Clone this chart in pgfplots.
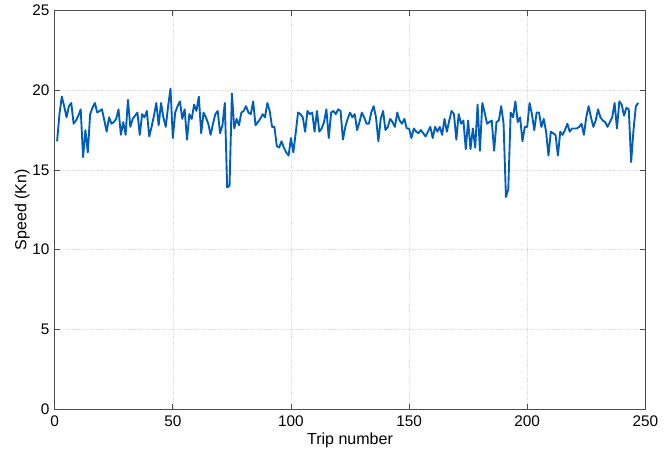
\documentclass[border=0pt]{standalone}
\usepackage{pgfplots}
\pgfplotsset{compat=1.18}
\usepackage{fontspec}
\setmainfont{Liberation Sans}
\definecolor{mblue}{RGB}{0,94,184}
\begin{document}
\fontsize{11.5}{13}\selectfont
\begin{tikzpicture}
\begin{axis}[
  scale only axis,
  width=442.5pt, height=298.5pt,
  xmin=0, xmax=250, ymin=0, ymax=25,
  xtick={0,50,...,250}, ytick={0,5,...,25},
  tick align=inside,
  major tick length=4pt,
  xmajorgrids, ymajorgrids,
  grid style={densely dotted, gray!30, line width=0.4pt},
  axis line style={black!70, line width=0.6pt},
  tick style={black!70, line width=0.6pt},
  /pgf/number format/assume math mode=true,
  ticklabel style={font=\fontsize{11.5}{13}\selectfont},
  label style={font=\fontsize{12}{14}\selectfont},
  xlabel={Trip number}, ylabel={Speed (Kn)},
  xlabel style={yshift=3pt},
  ylabel style={yshift=-6pt},
  xticklabel style={yshift=-1pt},
]
\addplot[mblue, line width=1.4pt, line join=round] table {
x y
1 16.8
2 18.5
3 19.6
4 19.0
5 18.3
6 19.0
7 19.2
8 17.9
9 18.1
10 18.4
11 18.8
12 15.8
13 17.5
14 16.1
15 18.5
16 18.9
17 19.2
18 18.6
19 18.7
20 18.8
21 18.1
22 17.4
23 18.3
24 17.9
25 18.0
26 18.2
27 18.8
28 17.2
29 18.0
30 17.2
31 19.4
32 17.7
33 18.2
34 18.4
35 18.6
36 17.2
37 18.5
38 18.3
39 18.7
40 17.1
41 17.7
42 18.4
43 19.2
44 17.8
45 19.2
46 18.3
47 17.7
48 19.0
49 20.1
50 17.0
51 18.6
52 19.0
53 19.3
54 18.2
55 18.8
56 16.9
57 18.5
58 18.2
59 19.1
60 18.7
61 19.6
62 17.3
63 18.6
64 18.3
65 17.9
66 17.2
67 17.9
68 18.5
69 18.7
70 17.3
71 17.8
72 19.2
73 13.9
74 14.0
75 19.8
76 17.6
77 18.2
78 17.8
79 18.6
80 18.7
81 19.0
82 18.6
83 18.5
84 19.3
85 17.8
86 18.0
87 18.2
88 18.5
89 18.3
90 19.2
91 18.7
92 17.7
93 17.7
94 16.5
95 16.4
96 16.8
97 16.4
98 16.1
99 15.9
100 17.0
101 16.1
102 17.3
103 18.6
104 18.5
105 18.3
106 17.4
107 18.7
108 18.5
109 18.6
110 17.4
111 18.7
112 17.4
113 17.6
114 18.0
115 18.8
116 17.0
117 18.6
118 18.7
119 18.5
120 18.8
121 18.7
122 16.9
123 17.7
124 18.2
125 18.6
126 18.3
127 18.5
128 17.5
129 18.0
130 18.6
131 18.3
132 17.9
133 17.9
134 18.6
135 19.0
136 18.3
137 16.8
138 18.2
139 18.7
140 17.5
141 17.7
142 18.2
143 18.0
144 17.7
145 18.6
146 18.1
147 17.9
148 18.2
149 17.6
150 17.6
151 17.0
152 17.6
153 17.4
154 17.3
155 17.5
156 17.3
157 17.1
158 17.4
159 17.7
160 17.0
161 17.7
162 17.4
163 17.7
164 17.2
165 18.2
166 17.4
167 18.1
168 18.7
169 18.5
170 16.9
171 18.5
172 17.9
173 18.1
174 16.3
175 18.1
176 16.3
177 17.6
178 16.4
179 19.1
180 16.2
181 19.2
182 18.6
183 17.9
184 18.0
185 18.1
186 16.2
187 18.0
188 18.1
189 19.0
190 17.9
191 13.3
192 13.8
193 18.6
194 18.3
195 19.3
196 18.0
197 18.3
198 16.8
199 17.7
200 17.7
201 19.2
202 18.5
203 17.5
204 18.6
205 18.6
206 17.7
207 18.2
208 17.4
209 15.9
210 17.4
211 17.3
212 17.2
213 15.9
214 17.4
215 17.2
216 17.5
217 17.9
218 17.4
219 17.6
220 17.6
221 17.6
222 17.7
223 17.9
224 17.2
225 18.3
226 19.0
227 18.3
228 17.7
229 18.1
230 18.8
231 18.3
232 18.1
233 18.0
234 17.7
235 18.0
236 18.3
237 19.2
238 17.6
239 19.3
240 19.1
241 18.4
242 18.9
243 18.8
244 15.5
245 17.5
246 19.0
247 19.2
};
\end{axis}
\path (current axis.south west) ++(-41pt,-33pt) coordinate (bl);
\path (current axis.north east) ++(20pt,5pt) coordinate (tr);
\useasboundingbox (bl) rectangle (tr);
\end{tikzpicture}
\end{document}
